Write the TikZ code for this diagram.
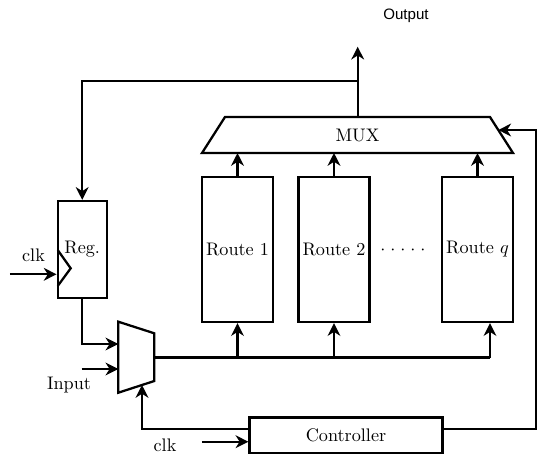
\documentclass[tikz,border=0pt]{standalone}
\usepackage{fontspec}
\newfontfamily\outfont{Liberation Sans}
\usetikzlibrary{arrows.meta}
\begin{document}
\begin{tikzpicture}[x=0.55pt,y=-0.55pt, line width=1.25pt,
  >={Stealth[length=7pt,width=7pt,inset=2.2pt]},
  box/.style={draw, rectangle, inner sep=0pt},
  regbox/.style={box, minimum width=26.95pt, minimum height=53.35pt},
  routebox/.style={box, minimum width=39.05pt, minimum height=79.75pt},
  ctrlbox/.style={box, minimum width=106.15pt, minimum height=19.5pt},
  lbl/.style={inner sep=0pt},
  outlbl/.style={inner sep=0pt, font=\outfont\fontsize{8.3}{10}\selectfont}]
\useasboundingbox (0,0) rectangle (538,455);

% boxes
\node[regbox] (reg) at (82.2,249.5) {Reg.};
\node[routebox] (r1) at (237.5,249.5) {Route 1};
\node[routebox] (r2) at (334,249.5) {Route 2};
\node[routebox] (rq) at (477.5,249.5) {Route $q$};
\node[ctrlbox] (ctrl) at (346,435.25) {Controller};
\node[lbl] (dots) at (403,250) {${\cdot}\kern2.72pt{\cdot}\kern2.72pt{\cdot}\kern2.72pt{\cdot}\kern2.72pt{\cdot}$};

% big MUX
\coordinate (mtl) at (225,117);
\coordinate (mtr) at (490,117);
\coordinate (mbr) at (513,153);
\coordinate (mbl) at (202,153);
\draw (mtl) -- (mtr) -- (mbr) -- (mbl) -- cycle;
\node[lbl] (mux) at (357.5,135) {MUX};

% small mux
\coordinate (stl) at (118.3,321.7);
\coordinate (str) at (154.3,333.3);
\coordinate (sbr) at (154.3,381);
\coordinate (sbl) at (118.3,392.7);
\draw (stl) -- (str) -- (sbr) -- (sbl) -- cycle;

% clock mark on Reg
\draw (57.7,250) -- (70.7,268.3) -- (57.7,286);

% labels
\node[outlbl] (outtxt) at (406,16) {Output};
\node[lbl] (clk1) at (33.5,255) {clk};
\node[lbl] (inlbl) at (69,385) {Input};
\node[lbl] (clk2) at (165,445) {clk};

% output and feedback
\coordinate (muxtop) at (357.7,117);
\coordinate (outtip) at (357.7,46.7);
\coordinate (fb) at (357.7,81);
\draw[->] (muxtop) -- (outtip);
\draw[->] (fb) -| (reg.north);

% clk to Reg
\coordinate (clkA) at (10,274.3);
\draw[->] (clkA) -- (clkA -| reg.west);

% Reg to small mux, input
\coordinate (sin1) at (118.3,344);
\draw[->] (reg.south) |- (sin1);
\coordinate (inA) at (81.7,369);
\coordinate (sin2) at (118.3,369);
\draw[->] (inA) -- (sin2);

% bus
\coordinate (sout) at (154.3,357.5);
\coordinate (busend) at (490,357.5);
\draw (sout) -- (busend);
\draw[->] (r1.south |- sout) -- (r1.south);
\draw[->] (r2.south |- sout) -- (r2.south);
\draw[->] (busend) -- (busend |- rq.south);

% routes to MUX
\draw[->] (r1.north) -- (r1.north |- mbl);
\draw[->] (r2.north) -- (r2.north |- mbl);
\draw[->] (rq.north) -- (rq.north |- mbl);

% controller
\coordinate (ctrlL) at (249.5,428.7);
\coordinate (smb) at (142,385);
\draw[->] (ctrlL) -| (smb);
\coordinate (clk2A) at (202,441.7);
\draw[->] (clk2A) -- (clk2A -| ctrl.west);
\coordinate (ctrlR) at (442.5,429);
\coordinate (corner) at (536,130);
\coordinate (muxR) at (498.3,130);
\draw[->] (ctrlR) -| (corner) -- (muxR);
\end{tikzpicture}
\end{document}
